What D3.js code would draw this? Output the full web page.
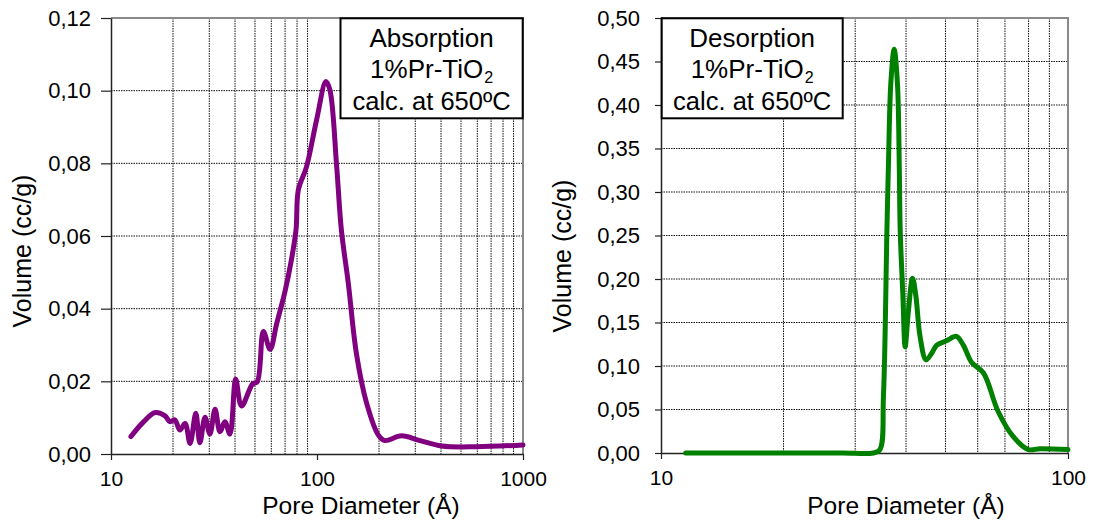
<!DOCTYPE html>
<html>
<head>
<meta charset="utf-8">
<script src="https://cdn.jsdelivr.net/npm/d3@7"></script>
<style>
  html, body { margin: 0; padding: 0; background: #fff; }
  svg { display: block; }
  text { font-family: "Liberation Sans", Arial, Helvetica, sans-serif; fill: #000; }
</style>
</head>
<body>
<svg id="chart" width="1096" height="523"></svg>
<script>
// Pore size distribution, 1%Pr-TiO2 calcined at 650 °C
// Absorption branch: pore diameter (Å) and volume (cc/g)
const absDiameter = [12.5, 14.2, 16.4, 18.3, 19.3, 20.4, 21.6, 22.9, 24.2, 25.8, 27.0, 28.6, 30.2, 32.0, 33.8, 35.7, 37.8, 40.3, 43.0, 48.7, 51.3, 54.9, 59.2, 63.8, 69.9, 75.1, 79.1, 81.2, 89.0, 99.5, 110.5, 115.5, 124.6, 131.3, 141.9, 155.3, 174.1, 198.6, 213.3, 257.4, 316, 403, 592, 1000];
const absVolume   = [0.0048, 0.0085, 0.0114, 0.0105, 0.0089, 0.0094, 0.0066, 0.0084, 0.0029, 0.0112, 0.0031, 0.0101, 0.0055, 0.0123, 0.0061, 0.0089, 0.0055, 0.0206, 0.0132, 0.0193, 0.0199, 0.0337, 0.0288, 0.0360, 0.0447, 0.0534, 0.0617, 0.0727, 0.0791, 0.0919, 0.1025, 0.1002, 0.0791, 0.0617, 0.0470, 0.0277, 0.0140, 0.0052, 0.0037, 0.0050, 0.0037, 0.0022, 0.0020, 0.0025];

// Desorption branch: pore diameter (Å) and volume (cc/g)
const desDiameter = [11.5, 16.0, 22.0, 28.0, 33.2, 34.5, 35.2, 35.9, 36.2, 36.7, 37.4, 38.1, 38.5, 38.7, 39.3, 39.8, 40.5, 41.5, 42.3, 43.3, 44.8, 46.3, 47.6, 50.3, 53.2, 55.3, 58.0, 62.0, 67.3, 73.3, 79.9, 85.4, 100];
const desVolume   = [0.000, 0.000, 0.000, 0.000, 0.000, 0.004, 0.065, 0.256, 0.329, 0.425, 0.464, 0.425, 0.329, 0.256, 0.180, 0.122, 0.161, 0.201, 0.180, 0.134, 0.107, 0.115, 0.124, 0.129, 0.134, 0.124, 0.104, 0.092, 0.048, 0.019, 0.004, 0.005, 0.004];

// Axis ticks
const absXTicks = [10, 100, 1000];
const absYTicks = [0, 0.02, 0.04, 0.06, 0.08, 0.10, 0.12];
const desXTicks = [10, 100];
const desYTicks = [0, 0.05, 0.10, 0.15, 0.20, 0.25, 0.30, 0.35, 0.40, 0.45, 0.50];

// Legend text lines; the middle line carries a subscript
const absLegend = ["Absorption", "1%Pr-TiO", "calc. at 650ºC"];
const desLegend = ["Desorption", "1%Pr-TiO", "calc. at 650ºC"];
const legendSub = ["", "2", ""];

const xTitle = "Pore Diameter (Å)";
const yTitle = "Volume (cc/g)";

const svg = d3.select("#chart");
const commaFmt = d => d3.format(".2f")(d).replace(".", ",");

function drawPanel(cfg) {
  const g = svg.append("g");
  const x = d3.scaleLog().domain(cfg.xDomain).range([cfg.left, cfg.right]);
  const y = d3.scaleLinear().domain(cfg.yDomain).range([cfg.bottom, cfg.top]);

  // minor vertical grid lines (2..9 per decade)
  const minor = [];
  const [d0, d1] = cfg.xDomain;
  for (let dec = d0; dec < d1; dec *= 10) {
    for (let k = 2; k <= 9; k++) minor.push(dec * k);
  }
  g.append("g").selectAll("line").data(minor).join("line")
    .attr("x1", d => x(d)).attr("x2", d => x(d))
    .attr("y1", cfg.top).attr("y2", cfg.bottom)
    .attr("stroke", "#111").attr("stroke-width", 1)
    .attr("stroke-dasharray", "1.5,1");

  // horizontal grid lines
  g.append("g").selectAll("line").data(cfg.yTicks.slice(1, -1)).join("line")
    .attr("x1", cfg.left).attr("x2", cfg.right)
    .attr("y1", d => y(d)).attr("y2", d => y(d))
    .attr("stroke", "#111").attr("stroke-width", 1)
    .attr("stroke-dasharray", "1.5,1");

  // top and right frame
  g.append("path")
    .attr("d", `M${cfg.left},${cfg.top}H${cfg.right}V${cfg.bottom}`)
    .attr("fill", "none").attr("stroke", "#8a8a8a").attr("stroke-width", 2);

  // y axis
  const yAxis = g.append("g")
    .attr("transform", `translate(${cfg.left},0)`)
    .call(d3.axisLeft(y).tickValues(cfg.yTicks).tickFormat(commaFmt)
      .tickSize(cfg.yTickLen).tickSizeOuter(0).tickPadding(cfg.yPad));
  yAxis.select(".domain").attr("stroke", "#222").attr("stroke-width", 1.5);
  yAxis.selectAll(".tick line").attr("stroke", "#222").attr("stroke-width", 1.2);
  yAxis.selectAll(".tick text").attr("font-size", 22)
    .attr("font-family", "Liberation Sans, Arial, sans-serif").attr("fill", "#000");

  // x axis
  const xAxis = g.append("g")
    .attr("transform", `translate(0,${cfg.bottom})`)
    .call(d3.axisBottom(x).tickValues(cfg.xTicks).tickFormat(d3.format("d"))
      .tickSize(6).tickSizeOuter(0).tickPadding(11));
  xAxis.select(".domain").attr("stroke", "#222").attr("stroke-width", 1.5);
  xAxis.selectAll(".tick line").attr("stroke", "#222").attr("stroke-width", 1.2);
  xAxis.selectAll(".tick text").attr("font-size", 21)
    .attr("font-family", "Liberation Sans, Arial, sans-serif").attr("fill", "#000");

  // data curve
  const line = d3.line()
    .x(d => x(d[0])).y(d => y(d[1]))
    .curve(d3.curveCatmullRom.alpha(0.5));
  g.append("path")
    .datum(d3.zip(cfg.xs, cfg.ys))
    .attr("d", line)
    .attr("fill", "none")
    .attr("stroke", cfg.color)
    .attr("stroke-width", 5)
    .attr("stroke-linejoin", "round")
    .attr("stroke-linecap", "round");

  // legend box
  const lb = cfg.legendBox;
  g.append("rect")
    .attr("x", lb[0]).attr("y", lb[1])
    .attr("width", lb[2] - lb[0]).attr("height", lb[3] - lb[1])
    .attr("fill", "#fff").attr("stroke", "#000").attr("stroke-width", 2);
  const cx = (lb[0] + lb[2]) / 2;
  const baselines = [lb[1] + 28.5, lb[1] + 60, lb[1] + 91.2];
  const sizes = [26, 26, 25.5];
  cfg.legend.forEach((t, i) => {
    const main = g.append("text")
      .attr("y", baselines[i])
      .attr("font-size", sizes[i])
      .text(t);
    const mainW = main.node().getComputedTextLength();
    let subW = 0, sub = null;
    if (legendSub[i]) {
      sub = g.append("text")
        .attr("y", baselines[i] + 4.5)
        .attr("font-size", 16)
        .text(legendSub[i]);
      subW = sub.node().getComputedTextLength() + 1;
    }
    const x0 = cx - (mainW + subW) / 2;
    main.attr("x", x0);
    if (sub) sub.attr("x", x0 + mainW + 1);
  });

  // axis titles
  g.append("text")
    .attr("x", cfg.xTitleX).attr("y", 513.5)
    .attr("text-anchor", "middle")
    .attr("font-size", 24.5)
    .text(xTitle);
  g.append("text")
    .attr("transform", `translate(${cfg.yTitleX},${cfg.yTitleY}) rotate(-90)`)
    .attr("text-anchor", "middle")
    .attr("font-size", 25)
    .text(yTitle);
}

drawPanel({
  left: 111, right: 523, top: 18, bottom: 454,
  xDomain: [10, 1000], yDomain: [0, 0.12],
  xTicks: absXTicks, yTicks: absYTicks,
  xs: absDiameter, ys: absVolume,
  color: "#800080",
  legend: absLegend, legendBox: [340.5, 18.3, 522.7, 118.3],
  xTitleX: 361, yTitleX: 31, yTitleY: 251,
  yTickLen: 10, yPad: 10
});

drawPanel({
  left: 661, right: 1068, top: 18, bottom: 453,
  xDomain: [10, 100], yDomain: [0, 0.5],
  xTicks: desXTicks, yTicks: desYTicks,
  xs: desDiameter, ys: desVolume,
  color: "#008000",
  legend: desLegend, legendBox: [661.7, 18.3, 842.7, 118.3],
  xTitleX: 906, yTitleX: 571, yTitleY: 256,
  yTickLen: 6, yPad: 15
});
</script>
</body>
</html>
